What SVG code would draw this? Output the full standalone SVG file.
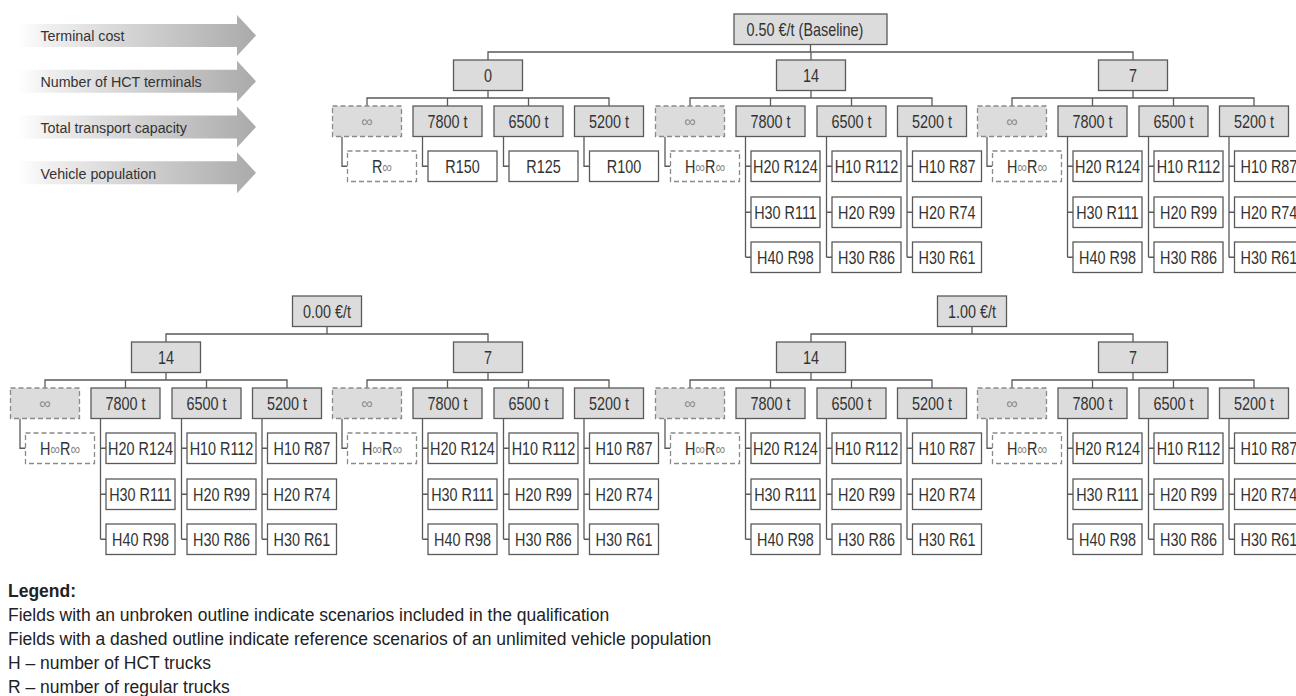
<svg xmlns="http://www.w3.org/2000/svg" width="1296" height="696" viewBox="0 0 1296 696">
<defs>
<linearGradient id="ag" x1="0" y1="0" x2="1" y2="0">
<stop offset="0" stop-color="#ffffff"/>
<stop offset="0.12" stop-color="#f0f0f0"/>
<stop offset="1" stop-color="#aaaaaa"/>
</linearGradient>
</defs>
<style>
.box{fill:#dcdcdc;stroke:#5a5a5a;stroke-width:1.3}
.leaf{fill:#ffffff;stroke:#5a5a5a;stroke-width:1.3}
.dbox{fill:#dcdcdc;stroke:#8a8a8a;stroke-width:1.3;stroke-dasharray:5 3}
.dleaf{fill:#ffffff;stroke:#8a8a8a;stroke-width:1.3;stroke-dasharray:5 3}
.t{font-family:"Liberation Sans",Arial,sans-serif;font-size:18px;fill:#333333;text-anchor:middle;transform-box:fill-box;transform-origin:50% 50%;transform:scaleX(0.8)}
.inf{font-family:"Liberation Sans",sans-serif;font-size:17px;fill:#8a8a8a}
.inf2{font-family:"Liberation Sans",sans-serif;font-size:16px;fill:#8a8a8a;text-anchor:middle}
.c{fill:none;stroke:#5a5a5a;stroke-width:1.3}
.arr{fill:url(#ag)}
.al{font-family:"Liberation Sans",Arial,sans-serif;font-size:15.5px;fill:#333333;transform-box:fill-box;transform-origin:0 50%;transform:scaleX(0.92)}
.lg{font-family:"Liberation Sans",Arial,sans-serif;font-size:17.5px;fill:#222222}
</style>
<rect width="1296" height="696" fill="#ffffff"/>

<g id="axis">
<path class="arr" d="M18 24H237V15L256 35.5L237 56V47H18Z"/>
<path class="arr" d="M18 69.8H237V60.8L256 81.3L237 101.8V92.8H18Z"/>
<path class="arr" d="M18 115.5H237V106.5L256 127L237 147.5V138.5H18Z"/>
<path class="arr" d="M18 161.3H237V152.3L256 172.8L237 193.3V184.3H18Z"/>
<text class="al" x="40.5" y="41.3">Terminal cost</text>
<text class="al" x="40.5" y="87.1">Number of HCT terminals</text>
<text class="al" x="40.5" y="132.8">Total transport capacity</text>
<text class="al" x="40.5" y="178.6">Vehicle population</text>
</g>

<g id="connectors">
<path class="c" d="M810.5 44.5V52M488 60V52H1133V60M811 52V60"/>
<path class="c" d="M488 90.5V98M367 106V98H609V106M447.5 98V106M528.5 98V106"/>
<path class="c" d="M342 136.5V166.25H347.5M422.5 136.5V166.25H428M503.5 136.5V166.25H509M584 136.5V166.25H589.5"/>
<path class="c" d="M811 90.5V98M690 106V98H932V106M770.5 98V106M851.5 98V106"/>
<path class="c" d="M665 136.5V166.25H670.5M745.5 136.5V257.25M745.5 166.25H751M745.5 212.25H751M745.5 257.25H751M826.5 136.5V257.25M826.5 166.25H832M826.5 212.25H832M826.5 257.25H832M907 136.5V257.25M907 166.25H912.5M907 212.25H912.5M907 257.25H912.5"/>
<path class="c" d="M1133 90.5V98M1012 106V98H1254V106M1092.5 98V106M1173.5 98V106"/>
<path class="c" d="M987 136.5V166.25H992.5M1067.5 136.5V257.25M1067.5 166.25H1073M1067.5 212.25H1073M1067.5 257.25H1073M1148.5 136.5V257.25M1148.5 166.25H1154M1148.5 212.25H1154M1148.5 257.25H1154M1229 136.5V257.25M1229 166.25H1234.5M1229 212.25H1234.5M1229 257.25H1234.5"/>
<path class="c" d="M327 326.5V334M166 342V334H488V342"/>
<path class="c" d="M972 326.5V334M811 342V334H1133V342"/>
<path class="c" d="M166 372.5V380M45 388V380H287V388M125.5 380V388M206.5 380V388"/>
<path class="c" d="M20 418.5V448.25H25.5M100.5 418.5V539.25M100.5 448.25H106M100.5 494.25H106M100.5 539.25H106M181.5 418.5V539.25M181.5 448.25H187M181.5 494.25H187M181.5 539.25H187M262 418.5V539.25M262 448.25H267.5M262 494.25H267.5M262 539.25H267.5"/>
<path class="c" d="M488 372.5V380M367 388V380H609V388M447.5 380V388M528.5 380V388"/>
<path class="c" d="M342 418.5V448.25H347.5M422.5 418.5V539.25M422.5 448.25H428M422.5 494.25H428M422.5 539.25H428M503.5 418.5V539.25M503.5 448.25H509M503.5 494.25H509M503.5 539.25H509M584 418.5V539.25M584 448.25H589.5M584 494.25H589.5M584 539.25H589.5"/>
<path class="c" d="M811 372.5V380M690 388V380H932V388M770.5 380V388M851.5 380V388"/>
<path class="c" d="M665 418.5V448.25H670.5M745.5 418.5V539.25M745.5 448.25H751M745.5 494.25H751M745.5 539.25H751M826.5 418.5V539.25M826.5 448.25H832M826.5 494.25H832M826.5 539.25H832M907 418.5V539.25M907 448.25H912.5M907 494.25H912.5M907 539.25H912.5"/>
<path class="c" d="M1133 372.5V380M1012 388V380H1254V388M1092.5 380V388M1173.5 380V388"/>
<path class="c" d="M987 418.5V448.25H992.5M1067.5 418.5V539.25M1067.5 448.25H1073M1067.5 494.25H1073M1067.5 539.25H1073M1148.5 418.5V539.25M1148.5 448.25H1154M1148.5 494.25H1154M1148.5 539.25H1154M1229 418.5V539.25M1229 448.25H1234.5M1229 494.25H1234.5M1229 539.25H1234.5"/>
</g>

<!-- top tree -->
<g id="root-050"><rect class="box" x="734" y="14" width="153" height="30.5"/><text class="t" x="805" y="35.7">0.50 €/t (Baseline)</text></g>

<g id="t0"><rect class="box" x="453.5" y="60" width="69" height="30.5"/><text class="t" x="488" y="81.7">0</text></g>
<g id="t0-inf"><rect class="dbox" x="332.5" y="106" width="69" height="30.5"/><text class="inf2" x="367" y="126.5">∞</text></g>
<g id="t0-7800"><rect class="box" x="413" y="106" width="69" height="30.5"/><text class="t" x="447.5" y="127.7">7800 t</text></g>
<g id="t0-6500"><rect class="box" x="494" y="106" width="69" height="30.5"/><text class="t" x="528.5" y="127.7">6500 t</text></g>
<g id="t0-5200"><rect class="box" x="574.5" y="106" width="69" height="30.5"/><text class="t" x="609" y="127.7">5200 t</text></g>
<g id="t0-inf-1"><rect class="dleaf" x="347.5" y="151" width="69" height="30.5"/><text class="t" x="382" y="172.7">R<tspan class="inf">∞</tspan></text></g>
<g id="t0-7800-1"><rect class="leaf" x="428" y="151" width="69" height="30.5"/><text class="t" x="462.5" y="172.7">R150</text></g>
<g id="t0-6500-1"><rect class="leaf" x="509" y="151" width="69" height="30.5"/><text class="t" x="543.5" y="172.7">R125</text></g>
<g id="t0-5200-1"><rect class="leaf" x="589.5" y="151" width="69" height="30.5"/><text class="t" x="624" y="172.7">R100</text></g>

<g id="t14"><rect class="box" x="776.5" y="60" width="69" height="30.5"/><text class="t" x="811" y="81.7">14</text></g>
<g id="t14-inf"><rect class="dbox" x="655.5" y="106" width="69" height="30.5"/><text class="inf2" x="690" y="126.5">∞</text></g>
<g id="t14-7800"><rect class="box" x="736" y="106" width="69" height="30.5"/><text class="t" x="770.5" y="127.7">7800 t</text></g>
<g id="t14-6500"><rect class="box" x="817" y="106" width="69" height="30.5"/><text class="t" x="851.5" y="127.7">6500 t</text></g>
<g id="t14-5200"><rect class="box" x="897.5" y="106" width="69" height="30.5"/><text class="t" x="932" y="127.7">5200 t</text></g>
<g id="t14-inf-1"><rect class="dleaf" x="670.5" y="151" width="69" height="30.5"/><text class="t" x="705" y="172.7">H<tspan class="inf">∞</tspan>R<tspan class="inf">∞</tspan></text></g>
<g id="t14-7800-1"><rect class="leaf" x="751" y="151" width="69" height="30.5"/><text class="t" x="785.5" y="172.7">H20 R124</text></g>
<g id="t14-7800-2"><rect class="leaf" x="751" y="197" width="69" height="30.5"/><text class="t" x="785.5" y="218.7">H30 R111</text></g>
<g id="t14-7800-3"><rect class="leaf" x="751" y="242" width="69" height="30.5"/><text class="t" x="785.5" y="263.7">H40 R98</text></g>
<g id="t14-6500-1"><rect class="leaf" x="832" y="151" width="69" height="30.5"/><text class="t" x="866.5" y="172.7">H10 R112</text></g>
<g id="t14-6500-2"><rect class="leaf" x="832" y="197" width="69" height="30.5"/><text class="t" x="866.5" y="218.7">H20 R99</text></g>
<g id="t14-6500-3"><rect class="leaf" x="832" y="242" width="69" height="30.5"/><text class="t" x="866.5" y="263.7">H30 R86</text></g>
<g id="t14-5200-1"><rect class="leaf" x="912.5" y="151" width="69" height="30.5"/><text class="t" x="947" y="172.7">H10 R87</text></g>
<g id="t14-5200-2"><rect class="leaf" x="912.5" y="197" width="69" height="30.5"/><text class="t" x="947" y="218.7">H20 R74</text></g>
<g id="t14-5200-3"><rect class="leaf" x="912.5" y="242" width="69" height="30.5"/><text class="t" x="947" y="263.7">H30 R61</text></g>

<g id="t7"><rect class="box" x="1098.5" y="60" width="69" height="30.5"/><text class="t" x="1133" y="81.7">7</text></g>
<g id="t7-inf"><rect class="dbox" x="977.5" y="106" width="69" height="30.5"/><text class="inf2" x="1012" y="126.5">∞</text></g>
<g id="t7-7800"><rect class="box" x="1058" y="106" width="69" height="30.5"/><text class="t" x="1092.5" y="127.7">7800 t</text></g>
<g id="t7-6500"><rect class="box" x="1139" y="106" width="69" height="30.5"/><text class="t" x="1173.5" y="127.7">6500 t</text></g>
<g id="t7-5200"><rect class="box" x="1219.5" y="106" width="69" height="30.5"/><text class="t" x="1254" y="127.7">5200 t</text></g>
<g id="t7-inf-1"><rect class="dleaf" x="992.5" y="151" width="69" height="30.5"/><text class="t" x="1027" y="172.7">H<tspan class="inf">∞</tspan>R<tspan class="inf">∞</tspan></text></g>
<g id="t7-7800-1"><rect class="leaf" x="1073" y="151" width="69" height="30.5"/><text class="t" x="1107.5" y="172.7">H20 R124</text></g>
<g id="t7-7800-2"><rect class="leaf" x="1073" y="197" width="69" height="30.5"/><text class="t" x="1107.5" y="218.7">H30 R111</text></g>
<g id="t7-7800-3"><rect class="leaf" x="1073" y="242" width="69" height="30.5"/><text class="t" x="1107.5" y="263.7">H40 R98</text></g>
<g id="t7-6500-1"><rect class="leaf" x="1154" y="151" width="69" height="30.5"/><text class="t" x="1188.5" y="172.7">H10 R112</text></g>
<g id="t7-6500-2"><rect class="leaf" x="1154" y="197" width="69" height="30.5"/><text class="t" x="1188.5" y="218.7">H20 R99</text></g>
<g id="t7-6500-3"><rect class="leaf" x="1154" y="242" width="69" height="30.5"/><text class="t" x="1188.5" y="263.7">H30 R86</text></g>
<g id="t7-5200-1"><rect class="leaf" x="1234.5" y="151" width="69" height="30.5"/><text class="t" x="1269" y="172.7">H10 R87</text></g>
<g id="t7-5200-2"><rect class="leaf" x="1234.5" y="197" width="69" height="30.5"/><text class="t" x="1269" y="218.7">H20 R74</text></g>
<g id="t7-5200-3"><rect class="leaf" x="1234.5" y="242" width="69" height="30.5"/><text class="t" x="1269" y="263.7">H30 R61</text></g>

<!-- bottom left tree -->
<g id="root-000"><rect class="box" x="292.5" y="296" width="69" height="30.5"/><text class="t" x="327" y="317.7">0.00 €/t</text></g>

<g id="a14"><rect class="box" x="131.5" y="342" width="69" height="30.5"/><text class="t" x="166" y="363.7">14</text></g>
<g id="a14-inf"><rect class="dbox" x="10.5" y="388" width="69" height="30.5"/><text class="inf2" x="45" y="408.5">∞</text></g>
<g id="a14-7800"><rect class="box" x="91" y="388" width="69" height="30.5"/><text class="t" x="125.5" y="409.7">7800 t</text></g>
<g id="a14-6500"><rect class="box" x="172" y="388" width="69" height="30.5"/><text class="t" x="206.5" y="409.7">6500 t</text></g>
<g id="a14-5200"><rect class="box" x="252.5" y="388" width="69" height="30.5"/><text class="t" x="287" y="409.7">5200 t</text></g>
<g id="a14-inf-1"><rect class="dleaf" x="25.5" y="433" width="69" height="30.5"/><text class="t" x="60" y="454.7">H<tspan class="inf">∞</tspan>R<tspan class="inf">∞</tspan></text></g>
<g id="a14-7800-1"><rect class="leaf" x="106" y="433" width="69" height="30.5"/><text class="t" x="140.5" y="454.7">H20 R124</text></g>
<g id="a14-7800-2"><rect class="leaf" x="106" y="479" width="69" height="30.5"/><text class="t" x="140.5" y="500.7">H30 R111</text></g>
<g id="a14-7800-3"><rect class="leaf" x="106" y="524" width="69" height="30.5"/><text class="t" x="140.5" y="545.7">H40 R98</text></g>
<g id="a14-6500-1"><rect class="leaf" x="187" y="433" width="69" height="30.5"/><text class="t" x="221.5" y="454.7">H10 R112</text></g>
<g id="a14-6500-2"><rect class="leaf" x="187" y="479" width="69" height="30.5"/><text class="t" x="221.5" y="500.7">H20 R99</text></g>
<g id="a14-6500-3"><rect class="leaf" x="187" y="524" width="69" height="30.5"/><text class="t" x="221.5" y="545.7">H30 R86</text></g>
<g id="a14-5200-1"><rect class="leaf" x="267.5" y="433" width="69" height="30.5"/><text class="t" x="302" y="454.7">H10 R87</text></g>
<g id="a14-5200-2"><rect class="leaf" x="267.5" y="479" width="69" height="30.5"/><text class="t" x="302" y="500.7">H20 R74</text></g>
<g id="a14-5200-3"><rect class="leaf" x="267.5" y="524" width="69" height="30.5"/><text class="t" x="302" y="545.7">H30 R61</text></g>

<g id="a7"><rect class="box" x="453.5" y="342" width="69" height="30.5"/><text class="t" x="488" y="363.7">7</text></g>
<g id="a7-inf"><rect class="dbox" x="332.5" y="388" width="69" height="30.5"/><text class="inf2" x="367" y="408.5">∞</text></g>
<g id="a7-7800"><rect class="box" x="413" y="388" width="69" height="30.5"/><text class="t" x="447.5" y="409.7">7800 t</text></g>
<g id="a7-6500"><rect class="box" x="494" y="388" width="69" height="30.5"/><text class="t" x="528.5" y="409.7">6500 t</text></g>
<g id="a7-5200"><rect class="box" x="574.5" y="388" width="69" height="30.5"/><text class="t" x="609" y="409.7">5200 t</text></g>
<g id="a7-inf-1"><rect class="dleaf" x="347.5" y="433" width="69" height="30.5"/><text class="t" x="382" y="454.7">H<tspan class="inf">∞</tspan>R<tspan class="inf">∞</tspan></text></g>
<g id="a7-7800-1"><rect class="leaf" x="428" y="433" width="69" height="30.5"/><text class="t" x="462.5" y="454.7">H20 R124</text></g>
<g id="a7-7800-2"><rect class="leaf" x="428" y="479" width="69" height="30.5"/><text class="t" x="462.5" y="500.7">H30 R111</text></g>
<g id="a7-7800-3"><rect class="leaf" x="428" y="524" width="69" height="30.5"/><text class="t" x="462.5" y="545.7">H40 R98</text></g>
<g id="a7-6500-1"><rect class="leaf" x="509" y="433" width="69" height="30.5"/><text class="t" x="543.5" y="454.7">H10 R112</text></g>
<g id="a7-6500-2"><rect class="leaf" x="509" y="479" width="69" height="30.5"/><text class="t" x="543.5" y="500.7">H20 R99</text></g>
<g id="a7-6500-3"><rect class="leaf" x="509" y="524" width="69" height="30.5"/><text class="t" x="543.5" y="545.7">H30 R86</text></g>
<g id="a7-5200-1"><rect class="leaf" x="589.5" y="433" width="69" height="30.5"/><text class="t" x="624" y="454.7">H10 R87</text></g>
<g id="a7-5200-2"><rect class="leaf" x="589.5" y="479" width="69" height="30.5"/><text class="t" x="624" y="500.7">H20 R74</text></g>
<g id="a7-5200-3"><rect class="leaf" x="589.5" y="524" width="69" height="30.5"/><text class="t" x="624" y="545.7">H30 R61</text></g>

<!-- bottom right tree -->
<g id="root-100"><rect class="box" x="937.5" y="296" width="69" height="30.5"/><text class="t" x="972" y="317.7">1.00 €/t</text></g>

<g id="b14"><rect class="box" x="776.5" y="342" width="69" height="30.5"/><text class="t" x="811" y="363.7">14</text></g>
<g id="b14-inf"><rect class="dbox" x="655.5" y="388" width="69" height="30.5"/><text class="inf2" x="690" y="408.5">∞</text></g>
<g id="b14-7800"><rect class="box" x="736" y="388" width="69" height="30.5"/><text class="t" x="770.5" y="409.7">7800 t</text></g>
<g id="b14-6500"><rect class="box" x="817" y="388" width="69" height="30.5"/><text class="t" x="851.5" y="409.7">6500 t</text></g>
<g id="b14-5200"><rect class="box" x="897.5" y="388" width="69" height="30.5"/><text class="t" x="932" y="409.7">5200 t</text></g>
<g id="b14-inf-1"><rect class="dleaf" x="670.5" y="433" width="69" height="30.5"/><text class="t" x="705" y="454.7">H<tspan class="inf">∞</tspan>R<tspan class="inf">∞</tspan></text></g>
<g id="b14-7800-1"><rect class="leaf" x="751" y="433" width="69" height="30.5"/><text class="t" x="785.5" y="454.7">H20 R124</text></g>
<g id="b14-7800-2"><rect class="leaf" x="751" y="479" width="69" height="30.5"/><text class="t" x="785.5" y="500.7">H30 R111</text></g>
<g id="b14-7800-3"><rect class="leaf" x="751" y="524" width="69" height="30.5"/><text class="t" x="785.5" y="545.7">H40 R98</text></g>
<g id="b14-6500-1"><rect class="leaf" x="832" y="433" width="69" height="30.5"/><text class="t" x="866.5" y="454.7">H10 R112</text></g>
<g id="b14-6500-2"><rect class="leaf" x="832" y="479" width="69" height="30.5"/><text class="t" x="866.5" y="500.7">H20 R99</text></g>
<g id="b14-6500-3"><rect class="leaf" x="832" y="524" width="69" height="30.5"/><text class="t" x="866.5" y="545.7">H30 R86</text></g>
<g id="b14-5200-1"><rect class="leaf" x="912.5" y="433" width="69" height="30.5"/><text class="t" x="947" y="454.7">H10 R87</text></g>
<g id="b14-5200-2"><rect class="leaf" x="912.5" y="479" width="69" height="30.5"/><text class="t" x="947" y="500.7">H20 R74</text></g>
<g id="b14-5200-3"><rect class="leaf" x="912.5" y="524" width="69" height="30.5"/><text class="t" x="947" y="545.7">H30 R61</text></g>

<g id="b7"><rect class="box" x="1098.5" y="342" width="69" height="30.5"/><text class="t" x="1133" y="363.7">7</text></g>
<g id="b7-inf"><rect class="dbox" x="977.5" y="388" width="69" height="30.5"/><text class="inf2" x="1012" y="408.5">∞</text></g>
<g id="b7-7800"><rect class="box" x="1058" y="388" width="69" height="30.5"/><text class="t" x="1092.5" y="409.7">7800 t</text></g>
<g id="b7-6500"><rect class="box" x="1139" y="388" width="69" height="30.5"/><text class="t" x="1173.5" y="409.7">6500 t</text></g>
<g id="b7-5200"><rect class="box" x="1219.5" y="388" width="69" height="30.5"/><text class="t" x="1254" y="409.7">5200 t</text></g>
<g id="b7-inf-1"><rect class="dleaf" x="992.5" y="433" width="69" height="30.5"/><text class="t" x="1027" y="454.7">H<tspan class="inf">∞</tspan>R<tspan class="inf">∞</tspan></text></g>
<g id="b7-7800-1"><rect class="leaf" x="1073" y="433" width="69" height="30.5"/><text class="t" x="1107.5" y="454.7">H20 R124</text></g>
<g id="b7-7800-2"><rect class="leaf" x="1073" y="479" width="69" height="30.5"/><text class="t" x="1107.5" y="500.7">H30 R111</text></g>
<g id="b7-7800-3"><rect class="leaf" x="1073" y="524" width="69" height="30.5"/><text class="t" x="1107.5" y="545.7">H40 R98</text></g>
<g id="b7-6500-1"><rect class="leaf" x="1154" y="433" width="69" height="30.5"/><text class="t" x="1188.5" y="454.7">H10 R112</text></g>
<g id="b7-6500-2"><rect class="leaf" x="1154" y="479" width="69" height="30.5"/><text class="t" x="1188.5" y="500.7">H20 R99</text></g>
<g id="b7-6500-3"><rect class="leaf" x="1154" y="524" width="69" height="30.5"/><text class="t" x="1188.5" y="545.7">H30 R86</text></g>
<g id="b7-5200-1"><rect class="leaf" x="1234.5" y="433" width="69" height="30.5"/><text class="t" x="1269" y="454.7">H10 R87</text></g>
<g id="b7-5200-2"><rect class="leaf" x="1234.5" y="479" width="69" height="30.5"/><text class="t" x="1269" y="500.7">H20 R74</text></g>
<g id="b7-5200-3"><rect class="leaf" x="1234.5" y="524" width="69" height="30.5"/><text class="t" x="1269" y="545.7">H30 R61</text></g>

<g id="legend">
<text class="lg" x="8" y="597" font-weight="bold">Legend:</text>
<text class="lg" x="8" y="621">Fields with an unbroken outline indicate scenarios included in the qualification</text>
<text class="lg" x="8" y="645">Fields with a dashed outline indicate reference scenarios of an unlimited vehicle population</text>
<text class="lg" x="8" y="669">H – number of HCT trucks</text>
<text class="lg" x="8" y="693">R – number of regular trucks</text>
</g>
</svg>
